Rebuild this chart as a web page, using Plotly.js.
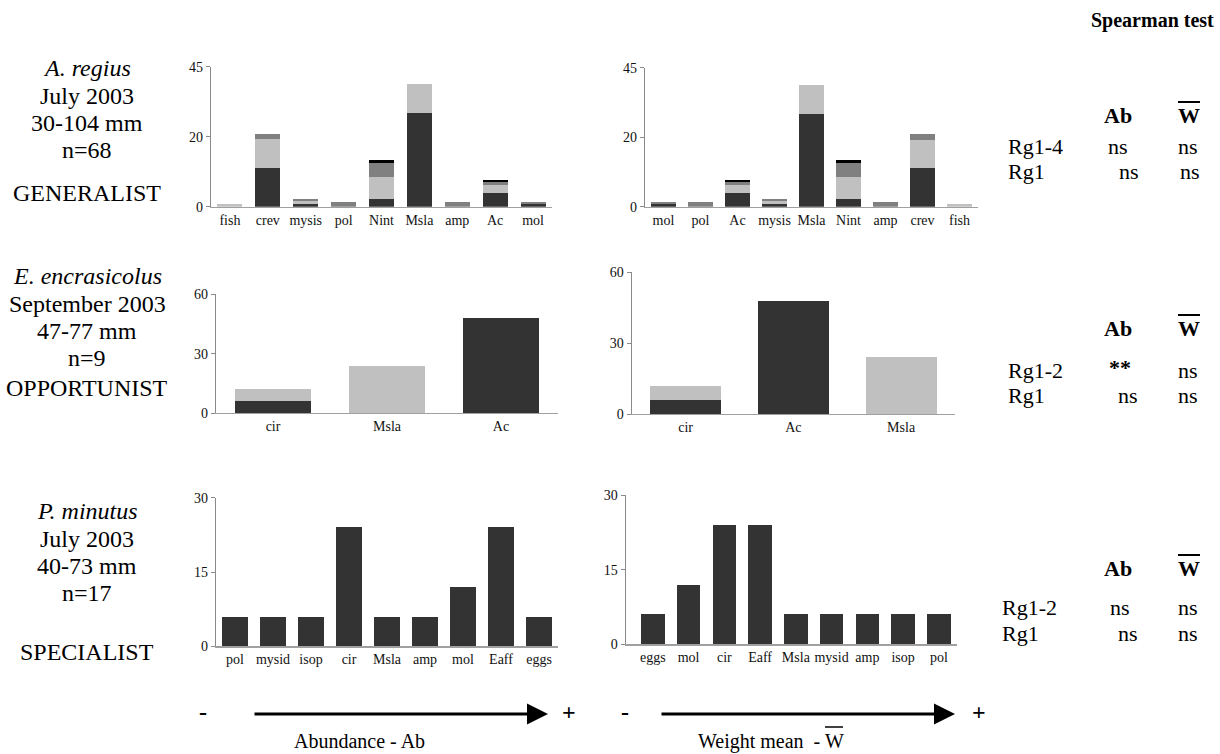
<!DOCTYPE html>
<html>
<head>
<meta charset="utf-8">
<script src="https://cdn.plot.ly/plotly-3.0.1.min.js"></script>
<style>html,body{margin:0;padding:0;background:#fff;}#chart{width:1220px;height:754px;}</style>
</head>
<body>
<div id="chart"></div>
<script>
// ---------- DATA ----------
// A. regius (top row), stacked segments, bottom to top
const topAbCats = ['fish','crev','mysis','pol','Nint','Msla','amp','Ac','mol'];
const topWCats  = ['mol','pol','Ac','mysis','Msla','Nint','amp','crev','fish'];
const topDark   = [0, 12.6, 0.9, 0, 2.5, 30.1, 0, 4.5, 0.9];
const topLight  = [0.9, 9.1, 0.9, 0, 7.0, 9.3, 0, 2.6, 0];
const topMid    = [0, 1.7, 0.7, 1.6, 4.5, 0, 1.6, 0.9, 0.7];
const topBlack  = [0, 0, 0, 0, 1.0, 0, 0, 0.7, 0];
const topTickVals = [0, 22.5, 45];
const topTickText = ['0','20','45'];

// E. encrasicolus (middle row)
const midAbCats = ['cir','Msla','Ac'];
const midWCats  = ['cir','Ac','Msla'];
const midDark   = [6, 0, 48];
const midLight  = [6, 24, 0];

// P. minutus (bottom row)
const botAbCats = ['pol','mysid','isop','cir','Msla','amp','mol','Eaff','eggs'];
const botWCats  = ['eggs','mol','cir','Eaff','Msla','mysid','amp','isop','pol'];
const botVals   = [6, 6, 6, 24, 6, 6, 12, 24, 6];

// ---------- HELPERS ----------
const W = 1220, H = 754;
const px = x => x / W;
const py = y => 1 - y / H;
const reorder = (arr, fromCats, toCats) => toCats.map(c => arr[fromCats.indexOf(c)]);

const C_DARK = '#333333', C_LIGHT = '#c0c0c0', C_MID = '#808080', C_BLACK = '#000000';
const SERIF = 'Liberation Serif';

function bar(x, y, color, xa, ya) {
  return {type: 'bar', x: x, y: y, xaxis: xa, yaxis: ya,
          marker: {color: color, line: {width: 0}}, hoverinfo: 'skip'};
}

const traces = [];
// top left
[[topDark, C_DARK], [topLight, C_LIGHT], [topMid, C_MID], [topBlack, C_BLACK]].forEach(([v, c]) => {
  traces.push(bar(topAbCats, v, c, 'x', 'y'));
});
// top right
[[topDark, C_DARK], [topLight, C_LIGHT], [topMid, C_MID], [topBlack, C_BLACK]].forEach(([v, c]) => {
  traces.push(bar(topWCats, reorder(v, topAbCats, topWCats), c, 'x2', 'y2'));
});
// middle
[[midDark, C_DARK], [midLight, C_LIGHT]].forEach(([v, c]) => {
  traces.push(bar(midAbCats, v, c, 'x3', 'y3'));
  traces.push(bar(midWCats, reorder(v, midAbCats, midWCats), c, 'x4', 'y4'));
});
// bottom
traces.push(bar(botAbCats, botVals, C_DARK, 'x5', 'y5'));
traces.push(bar(botWCats, reorder(botVals, botAbCats, botWCats), C_DARK, 'x6', 'y6'));

// ---------- AXES ----------
const tickFont = {family: SERIF, size: 14, color: '#111'};
function xax(x0, x1, yAnchor, n, r0) {
  return {domain: [px(x0), px(x1)], anchor: yAnchor, type: 'category',
          range: [r0 === undefined ? -0.5 : r0, n - 0.5],
          showline: true, linecolor: '#a0a0a0', linewidth: 1.2, ticks: '',
          showgrid: false, zeroline: false, tickfont: tickFont, fixedrange: true};
}
function yax(yTop, yBot, xAnchor, max, tv, tt) {
  return {domain: [py(yBot), py(yTop)], anchor: xAnchor, range: [0, max],
          tickvals: tv, ticktext: tt || tv.map(String),
          showline: true, linecolor: '#8a8a8a', linewidth: 1.2,
          ticks: 'outside', ticklen: 4, tickcolor: '#8a8a8a',
          showgrid: false, zeroline: false, tickfont: tickFont, fixedrange: true};
}

const layout = {
  width: W, height: H,
  margin: {l: 0, r: 0, t: 0, b: 0},
  paper_bgcolor: '#fff', plot_bgcolor: '#fff',
  showlegend: false, barmode: 'stack', bargap: 0.34,
  font: {family: SERIF, color: '#000'},
  xaxis:  xax(211, 552, 'y', 9),
  yaxis:  yax(66.7, 206.7, 'x', 45, topTickVals, topTickText),
  xaxis2: xax(645, 978, 'y2', 9),
  yaxis2: yax(67.7, 206.7, 'x2', 45, topTickVals, topTickText),
  xaxis3: xax(216, 558, 'y3', 3),
  yaxis3: yax(294.3, 413, 'x3', 60, [0, 30, 60]),
  xaxis4: xax(631.7, 955, 'y4', 3),
  yaxis4: yax(272.3, 414, 'x4', 60, [0, 30, 60]),
  xaxis5: xax(216, 558, 'y5', 9),
  yaxis5: yax(497.7, 646.3, 'x5', 30, [0, 15, 30]),
  xaxis6: xax(625.7, 956.7, 'y6', 9, -0.76),
  yaxis6: yax(495, 644.3, 'x6', 30, [0, 15, 30]),
  annotations: [],
  shapes: []
};

// ---------- TEXT ----------
function txt(x, y, text, size, opts) {
  const o = Object.assign({xanchor: 'center', yanchor: 'middle'}, opts || {});
  layout.annotations.push({xref: 'paper', yref: 'paper', x: px(x), y: py(y), text: text,
    showarrow: false, xanchor: o.xanchor, yanchor: o.yanchor,
    font: {family: SERIF, size: size, color: '#000'}});
}
function overline(x0, x1, y, w) {
  layout.shapes.push({type: 'line', xref: 'paper', yref: 'paper',
    x0: px(x0), x1: px(x1), y0: py(y), y1: py(y), line: {color: '#000', width: w}});
}

const LF = 24;
const leftBlocks = [
  [['<i>A. regius</i>', 68], ['July 2003', 96], ['30-104 mm', 123], ['n=68', 150], ['GENERALIST', 193]],
  [['<i>E. encrasicolus</i>', 276], ['September 2003', 304], ['47-77 mm', 331], ['n=9', 358], ['OPPORTUNIST', 388]],
  [['<i>P. minutus</i>', 511], ['July 2003', 539], ['40-73 mm', 566], ['n=17', 593], ['SPECIALIST', 652]]
];
leftBlocks.forEach(b => b.forEach(([t, y]) => txt(87, y, t, LF)));

// Spearman block
txt(1152, 20, '<b>Spearman test</b>', 20);
const RF = 22;
function wbar(x, y) {
  txt(x, y, '<b>W</b>', RF);
  overline(x - 11, x + 11, y - 13, 2);
}
const spBlocks = [
  {hy: 115, rows: [['Rg1-4', 146, 'ns', 1118, 'ns', 1188], ['Rg1', 171, 'ns', 1129, 'ns', 1190]], lx: 1006},
  {hy: 328, rows: [['Rg1-2', 370, '<b>**</b>', 1120, 'ns', 1188], ['Rg1', 396, 'ns', 1128, 'ns', 1188]], lx: 1006},
  {hy: 568, rows: [['Rg1-2', 607, 'ns', 1120, 'ns', 1188], ['Rg1', 633, 'ns', 1128, 'ns', 1188]], lx: 1000}
];
spBlocks.forEach(b => {
  txt(1118, b.hy, '<b>Ab</b>', RF);
  wbar(1189, b.hy);
  b.rows.forEach(([lab, y, a, ax, w, wx]) => {
    txt(b.lx, y, lab, RF, {xanchor: 'left'});
    txt(ax, y + (a.indexOf('*') >= 0 ? -3 : 0), a, RF);
    txt(wx, y, w, RF);
  });
});

// bottom arrows
function arrow(x0, x1, y) {
  layout.annotations.push({xref: 'paper', yref: 'paper', x: px(x1), y: py(y),
    ax: -(x1 - x0), ay: 0, axref: 'pixel', ayref: 'pixel', text: '', showarrow: true,
    arrowhead: 2, arrowsize: 1.4, arrowwidth: 3, arrowcolor: '#000'});
}
arrow(253, 548, 714);
arrow(660, 955, 714);
txt(203, 712, '<b>-</b>', 24);
txt(569, 712, '<b>+</b>', 24);
txt(625, 712, '<b>-</b>', 24);
txt(979, 712, '<b>+</b>', 24);
txt(359, 741, 'Abundance - Ab', 20);
txt(822, 741, 'Weight mean  -', 20, {xanchor: 'right'});
txt(834, 741, 'W', 20);
overline(825, 843, 727, 1.5);

Plotly.newPlot('chart', traces, layout, {staticPlot: true, displayModeBar: false});
</script>
</body>
</html>
